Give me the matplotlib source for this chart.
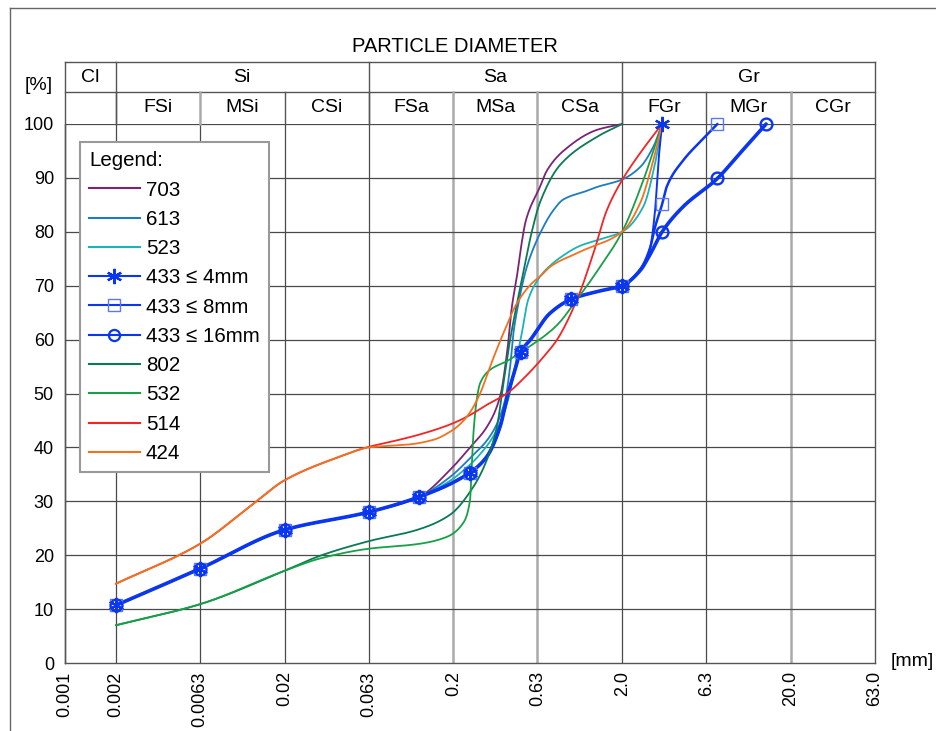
import numpy as np
import matplotlib
matplotlib.use("Agg")
import matplotlib.pyplot as plt
from matplotlib.lines import Line2D
import matplotlib.transforms as mtransforms

plt.rcParams['font.family'] = ['Liberation Sans', 'DejaVu Sans']

# ---------------- axis definitions ----------------
X_TICKS = [0.001, 0.002, 0.0063, 0.02, 0.063, 0.2, 0.63, 2.0, 6.3, 20.0, 63.0]
X_TICK_LABELS = ['0.001', '0.002', '0.0063', '0.02', '0.063', '0.2', '0.63',
                 '2.0', '6.3', '20.0', '63.0']
X_LIGHT_GRID = [0.2, 0.63, 20.0]
Y_TICKS = [0, 10, 20, 30, 40, 50, 60, 70, 80, 90, 100]

GROUP_NAMES = ['Cl', 'Si', 'Sa', 'Gr']
GROUP_EDGES = [0.001, 0.002, 0.063, 2.0, 63.0]
SUB_NAMES = ['', 'FSi', 'MSi', 'CSi', 'FSa', 'MSa', 'CSa', 'FGr', 'MGr', 'CGr']
SUB_EDGES = [0.001, 0.002, 0.0063, 0.02, 0.063, 0.2, 0.63, 2.0, 6.3, 20.0, 63.0]

# ---------------- series data (diameter mm, % passing) ----------------
S703_X = [0.002, 0.0063, 0.02, 0.063, 0.125, 0.191, 0.251, 0.316, 0.378, 0.418,
          0.444, 0.475, 0.497, 0.539, 0.653, 0.715, 0.897, 1.416, 2.0]
S703_Y = [10.7, 17.5, 24.7, 28.0, 30.8, 35.8, 40.0, 43.8, 49.4, 58.1,
          66.0, 71.5, 76.0, 82.2, 88.4, 91.3, 95.0, 98.9, 100.0]

S613_X = [0.002, 0.0063, 0.02, 0.063, 0.125, 0.191, 0.251, 0.338, 0.405, 0.434,
          0.454, 0.490, 0.545, 0.653, 0.783, 0.897, 1.235, 1.416, 2.0, 2.556,
          3.063, 3.45]
S613_Y = [10.7, 17.5, 24.7, 28.0, 30.8, 34.5, 38.0, 42.6, 48.8, 55.0,
          61.2, 67.3, 73.5, 79.7, 84.0, 86.0, 87.6, 88.3, 89.7, 92.0,
          95.8, 100.0]

S523_X = [0.002, 0.0063, 0.02, 0.063, 0.125, 0.191, 0.251, 0.280, 0.353, 0.422,
          0.464, 0.509, 0.554, 0.653, 0.748, 0.858, 1.127, 1.48, 2.0, 2.673,
          3.135, 3.45]
S523_Y = [10.7, 17.5, 24.7, 28.0, 30.8, 33.8, 36.8, 38.3, 42.6, 48.8,
          55.0, 61.2, 67.3, 71.7, 73.7, 75.2, 77.4, 78.6, 80.0, 84.7,
          92.7, 100.0]

S433_4_X = [0.002, 0.0063, 0.02, 0.063, 0.125, 0.25, 0.316, 0.378, 0.422, 0.464,
            0.5, 0.570, 0.748, 1.0, 1.416, 2.0, 2.556, 2.929, 3.135, 3.281, 3.45]
S433_4_Y = [10.7, 17.5, 24.7, 28.0, 30.8, 35.3, 38.3, 43.8, 50.0, 54.4,
            57.7, 59.9, 64.9, 67.5, 68.9, 70.0, 73.0, 77.0, 84.0, 93.0, 100.0]
S433_4_MARKS = [0, 1, 2, 3, 4, 5, 10, 13, 15, 20]

S433_8_X = [0.002, 0.0063, 0.02, 0.063, 0.125, 0.25, 0.316, 0.378, 0.422, 0.464,
            0.5, 0.570, 0.748, 1.0, 1.416, 2.0, 2.556, 2.929, 3.135, 3.45,
            3.679, 4.613, 5.794, 7.336]
S433_8_Y = [10.7, 17.5, 24.7, 28.0, 30.8, 35.3, 38.3, 43.8, 50.0, 54.4,
            57.7, 59.9, 64.9, 67.5, 68.9, 70.0, 73.0, 77.0, 80.9, 85.1,
            88.4, 93.3, 96.7, 100.0]
S433_8_MARKS = [0, 1, 2, 3, 4, 5, 10, 13, 15, 19, 23]

S433_16_X = [0.002, 0.0063, 0.02, 0.063, 0.125, 0.25, 0.316, 0.378, 0.422, 0.464,
             0.5, 0.570, 0.748, 1.0, 1.416, 2.0, 2.556, 2.929, 3.45, 4.613,
             7.336, 10.0, 14.26]
S433_16_Y = [10.7, 17.5, 24.7, 28.0, 30.8, 35.3, 38.3, 43.8, 50.0, 54.4,
             57.7, 59.9, 64.9, 67.5, 68.9, 70.0, 72.8, 75.8, 80.0, 84.7,
             89.9, 94.6, 100.0]
S433_16_MARKS = [0, 1, 2, 3, 4, 5, 10, 13, 15, 18, 20, 22]

S802_X = [0.002, 0.0063, 0.02, 0.0325, 0.063, 0.125, 0.191, 0.263, 0.316, 0.362,
          0.396, 0.434, 0.475, 0.520, 0.583, 0.653, 0.858, 1.416, 2.0]
S802_Y = [7.0, 10.9, 17.1, 19.9, 22.6, 24.8, 27.5, 32.7, 37.7, 43.8,
          51.9, 60.0, 66.5, 72.5, 80.0, 85.5, 92.4, 97.6, 100.0]

S532_X = [0.002, 0.0063, 0.02, 0.0325, 0.063, 0.125, 0.183, 0.229, 0.251, 0.257,
          0.263, 0.275, 0.288, 0.330, 0.415, 0.5, 0.570, 0.748, 0.858, 1.0,
          1.416, 2.0, 2.673, 3.45]
S532_Y = [7.0, 10.9, 17.1, 19.4, 21.2, 22.1, 23.4, 26.0, 30.2, 36.4,
          42.6, 48.8, 51.9, 54.4, 56.0, 57.6, 58.8, 61.5, 63.3, 66.0,
          72.6, 80.0, 89.6, 100.0]

S514_X = [0.002, 0.0063, 0.013, 0.02, 0.0426, 0.063, 0.0843, 0.133, 0.2, 0.251,
          0.316, 0.415, 0.545, 0.715, 0.820, 1.077, 1.351, 1.623, 2.0, 2.556, 3.45]
S514_Y = [14.7, 22.1, 29.5, 33.9, 38.3, 40.1, 41.0, 42.6, 44.5, 46.0,
          47.9, 50.0, 53.4, 57.5, 59.9, 67.3, 76.0, 84.0, 89.6, 94.6, 100.0]

S424_X = [0.002, 0.0063, 0.013, 0.02, 0.0426, 0.063, 0.0843, 0.106, 0.152, 0.2,
          0.219, 0.251, 0.288, 0.330, 0.396, 0.475, 0.570, 0.683, 0.748, 1.127,
          2.0, 2.556, 3.063, 3.45]
S424_Y = [14.7, 22.1, 29.5, 33.9, 38.3, 40.0, 40.3, 40.5, 41.4, 43.3,
          44.3, 46.5, 50.0, 55.0, 61.2, 66.7, 70.1, 72.3, 73.5, 76.3,
          80.0, 85.3, 93.3, 100.0]

LABELS = ['703', '613', '523', '433 \u2264 4mm', '433 \u2264 8mm', '433 \u2264 16mm',
          '802', '532', '514', '424']
COLORS = ['#7a2377', '#1c7cc2', '#19b3b8', '#0a36f0', '#0a36f0', '#0a36f0',
          '#0a7a55', '#17a046', '#f42424', '#f2711f']


def smooth(xs, ys, per_seg=40):
    """Monotone cubic (Fritsch-Carlson) curve in log-x space for drawing."""
    lx = np.log10(np.asarray(xs, float))
    y = np.asarray(ys, float)
    h = np.diff(lx)
    d = np.diff(y) / h
    m = np.zeros_like(y)
    m[0] = d[0]
    m[-1] = d[-1]
    for k in range(1, len(y) - 1):
        if d[k - 1] * d[k] <= 0:
            m[k] = 0.0
        else:
            w1 = 2 * h[k] + h[k - 1]
            w2 = h[k] + 2 * h[k - 1]
            m[k] = (w1 + w2) / (w1 / d[k - 1] + w2 / d[k])
    ox, oy = [], []
    for k in range(len(h)):
        t = np.linspace(0, 1, per_seg, endpoint=(k == len(h) - 1))
        h00 = 2 * t**3 - 3 * t**2 + 1
        h10 = t**3 - 2 * t**2 + t
        h01 = -2 * t**3 + 3 * t**2
        h11 = t**3 - t**2
        oy.append(h00 * y[k] + h10 * h[k] * m[k] + h01 * y[k + 1] + h11 * h[k] * m[k + 1])
        ox.append(lx[k] + t * h[k])
    return 10 ** np.concatenate(ox), np.concatenate(oy)


fig = plt.figure(figsize=(9.36, 7.31), dpi=100)
ax = fig.add_axes([65 / 936, 68 / 731, 810 / 936, 539 / 731])
ax.set_xscale('log')
ax.set_xlim(0.001, 63.0)
ax.set_ylim(0, 100)

# grid
for xv in X_TICKS[1:-1]:
    if xv in X_LIGHT_GRID:
        ax.axvline(xv, color='#aaaaaa', lw=1.8, zorder=1)
    else:
        ax.axvline(xv, color='#4a4a4a', lw=0.9, zorder=1)
for yv in Y_TICKS[1:]:
    ax.axhline(yv, color='#4a4a4a', lw=0.9, zorder=1)

for s in ['left', 'bottom', 'right']:
    ax.spines[s].set_color('#555555')
    ax.spines[s].set_linewidth(1.0)
ax.spines['top'].set_visible(False)

ax.set_xticks(X_TICKS)
ax.set_xticklabels(X_TICK_LABELS, rotation=90, fontsize=13)
ax.xaxis.set_minor_locator(matplotlib.ticker.NullLocator())
ax.set_yticks(Y_TICKS)
ax.set_yticklabels([str(v) for v in Y_TICKS], fontsize=13)
ax.tick_params(axis='x', length=0, pad=6)
ax.tick_params(axis='y', length=0, pad=8)

# series
series = [(S703_X, S703_Y), (S613_X, S613_Y), (S523_X, S523_Y),
          (S433_4_X, S433_4_Y), (S433_8_X, S433_8_Y), (S433_16_X, S433_16_Y),
          (S802_X, S802_Y), (S532_X, S532_Y), (S514_X, S514_Y), (S424_X, S424_Y)]
widths = [1.3, 1.3, 1.3, 1.4, 1.8, 2.6, 1.3, 1.3, 1.3, 1.3]
for (xs, ys), c, w in zip(series, COLORS, widths):
    sx, sy = smooth(xs, ys)
    ax.plot(sx, sy, color=c, lw=w, zorder=3, clip_on=False, solid_capstyle='round')

# markers of the 433 series
ast = (6, 2, 0)
ax.plot(np.array(S433_4_X)[S433_4_MARKS], np.array(S433_4_Y)[S433_4_MARKS], ls='none',
        marker=ast, ms=11, mew=1.6, color='#0a36f0', zorder=5, clip_on=False)
ax.plot(np.array(S433_8_X)[S433_8_MARKS], np.array(S433_8_Y)[S433_8_MARKS], ls='none',
        marker='s', ms=8, mew=1.0, mfc='none', mec='#5a78f0', zorder=5, clip_on=False)
ax.plot(np.array(S433_16_X)[S433_16_MARKS], np.array(S433_16_Y)[S433_16_MARKS], ls='none',
        marker='o', ms=8.5, mew=1.7, mfc='none', mec='#0a36f0', zorder=5, clip_on=False)

# ---------------- header table ----------------
trans = mtransforms.blended_transform_factory(ax.transData, ax.transAxes)
Y_MID = (663 - 92) / 539
Y_TOP = (663 - 62) / 539
hdr = dict(color='#555555', lw=1.0, transform=trans, clip_on=False, zorder=2)
ax.plot([0.001, 63.0], [Y_TOP, Y_TOP], **hdr)
ax.plot([0.001, 63.0], [Y_MID, Y_MID], **hdr)
ax.plot([0.001, 0.001], [0, Y_TOP], **hdr)
for xe in GROUP_EDGES[1:]:
    ax.plot([xe, xe], [1.0, Y_TOP], **hdr)
for xe in SUB_EDGES[1:-1]:
    if xe in X_LIGHT_GRID or xe == 0.0063:
        ax.plot([xe, xe], [1.0, Y_MID], color='#aaaaaa', lw=1.8, transform=trans,
                clip_on=False, zorder=2)
    else:
        ax.plot([xe, xe], [1.0, Y_MID], **hdr)

for name, a, b in zip(GROUP_NAMES, GROUP_EDGES[:-1], GROUP_EDGES[1:]):
    ax.text(np.sqrt(a * b), (663 - 77) / 539, name, transform=trans, ha='center',
            va='center', fontsize=14)
for name, a, b in zip(SUB_NAMES, SUB_EDGES[:-1], SUB_EDGES[1:]):
    if name:
        ax.text(np.sqrt(a * b), (663 - 108) / 539, name, transform=trans, ha='center',
                va='center', fontsize=14)

ax.text((455 - 65) / 810, (663 - 46) / 539, 'PARTICLE DIAMETER', transform=ax.transAxes,
        ha='center', va='center', fontsize=14.5)
ax.text((39 - 65) / 810, (663 - 85) / 539, '[%]', transform=ax.transAxes,
        ha='center', va='center', fontsize=14)
ax.text((912 - 65) / 810, (663 - 661) / 539, '[mm]', transform=ax.transAxes,
        ha='center', va='center', fontsize=14)

# ---------------- legend ----------------
handles = []
for i, (lab, c) in enumerate(zip(LABELS, COLORS)):
    kw = dict(color=c, lw=1.5)
    if i == 3:
        kw.update(marker=ast, ms=11, mew=1.6)
    elif i == 4:
        kw.update(marker='s', ms=8, mew=1.0, mfc='none', mec='#5a78f0')
    elif i == 5:
        kw.update(marker='o', ms=8, mew=1.6, mfc='none')
    handles.append(Line2D([], [], label=lab, **kw))
leg = ax.legend(handles=handles, loc='upper left',
                bbox_to_anchor=((80 - 65) / 810, (663 - 142) / 539),
                borderaxespad=0, fontsize=14.8, title='Legend:', title_fontsize=14.8,
                alignment='left', fancybox=False, framealpha=1, edgecolor='#999999',
                handlelength=2.45, handletextpad=0.3, labelspacing=0.5,
                borderpad=0.45, markerfirst=True)
leg.get_frame().set_linewidth(1.5)
leg.set_zorder(10)

# figure border
fig.add_artist(Line2D([10 / 936, 10 / 936], [0, 1 - 8 / 731], color='#666666', lw=1.0))
fig.add_artist(Line2D([10 / 936, 1], [1 - 8 / 731, 1 - 8 / 731], color='#666666', lw=1.0))

fig.savefig('out.png', dpi=100, facecolor='white')
